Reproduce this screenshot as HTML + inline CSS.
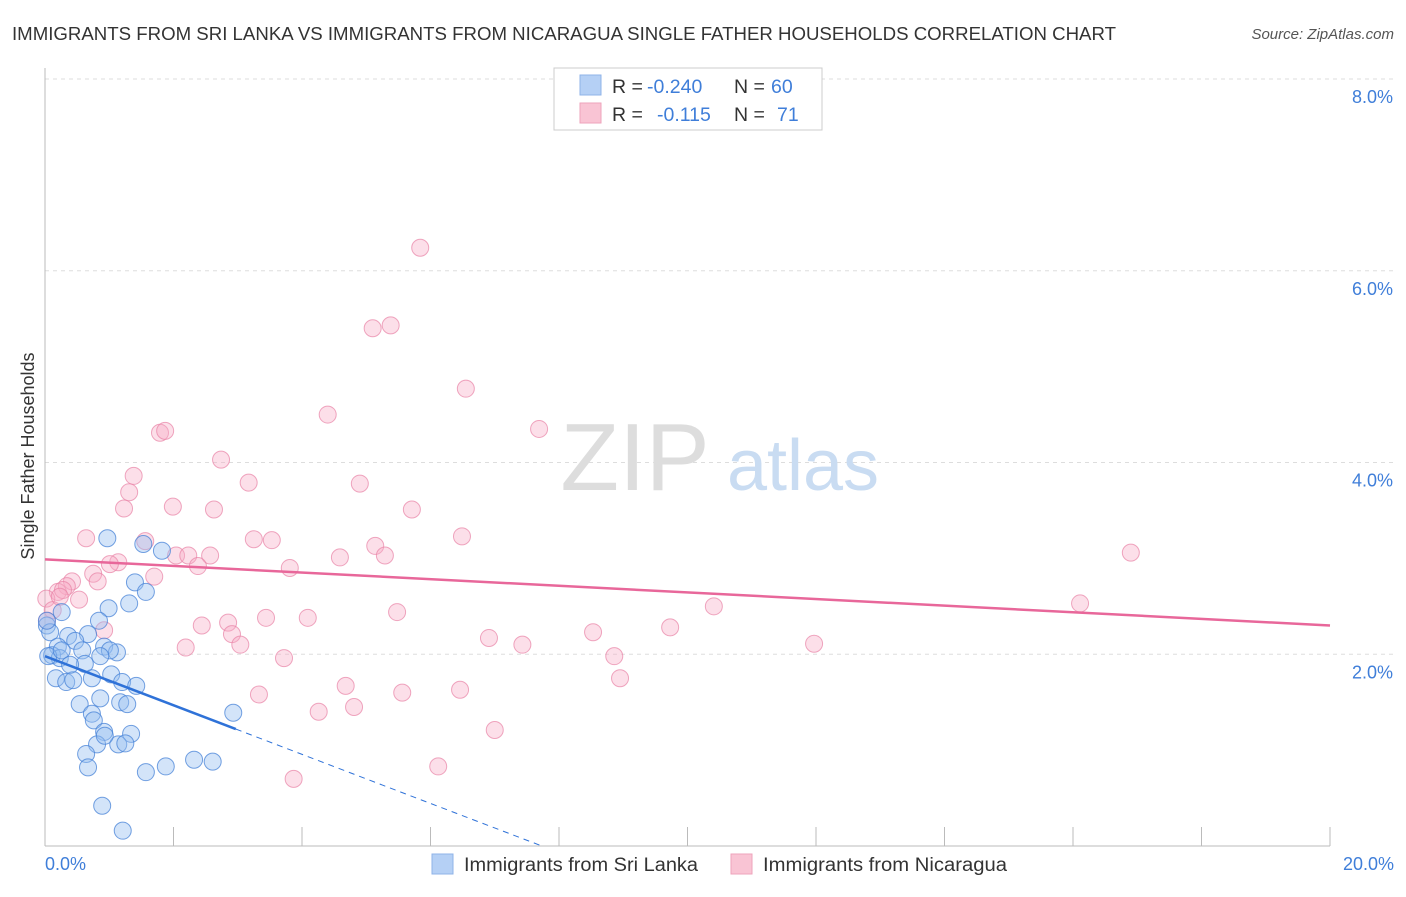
<!DOCTYPE html>
<html><head><meta charset="utf-8"><style>
body{margin:0;background:#fff;font-family:"Liberation Sans",sans-serif;}
svg text{font-family:"Liberation Sans",sans-serif;}
</style></head><body>
<svg id="chart" width="1406" height="892" xmlns="http://www.w3.org/2000/svg">
<text x="12" y="40" font-size="18" fill="#333" textLength="1104" lengthAdjust="spacingAndGlyphs">IMMIGRANTS FROM SRI LANKA VS IMMIGRANTS FROM NICARAGUA SINGLE FATHER HOUSEHOLDS CORRELATION CHART</text>
<text x="1394" y="39" font-size="15" fill="#555" font-style="italic" text-anchor="end">Source: ZipAtlas.com</text>
<g id="grid"></g>
<g><text x="635" y="490" font-size="96" font-family="Liberation Serif" fill="#ddd" text-anchor="middle">ZIP</text><text x="803" y="490" font-size="72" fill="#c9dcf2" text-anchor="middle">atlas</text></g>
<line x1="45" y1="68" x2="45" y2="846" stroke="#bbb"/>
<line x1="45" y1="846" x2="1330" y2="846" stroke="#bbb"/>
<g id="xticks"></g>
<text x="45" y="870" font-size="18" fill="#3f7ed9">0.0%</text>
<text x="1394" y="870" font-size="18" fill="#3f7ed9" text-anchor="end">20.0%</text>
<text transform="translate(34,456) rotate(-90)" font-size="18" fill="#333" text-anchor="middle">Single Father Households</text>
<g id="pink"></g>
<g id="blue"></g>
<g id="trends"></g>
<g>
<rect x="554" y="68" width="268" height="62" fill="#fff" stroke="#ccc"/>
<rect x="580" y="75" width="21" height="20" fill="#b5d0f5" stroke="#8fb3e8"/>
<rect x="580" y="103" width="21" height="20" fill="#f9c4d4" stroke="#eea3bb"/>
<text x="612" y="93" font-size="19.5" fill="#333">R = <tspan x="647" fill="#3f7ed9">-0.240</tspan><tspan x="734">N = </tspan><tspan x="771" fill="#3f7ed9">60</tspan></text>
<text x="612" y="121" font-size="19.5" fill="#333">R = <tspan x="657" fill="#3f7ed9">-0.115</tspan><tspan x="734">N = </tspan><tspan x="777" fill="#3f7ed9">71</tspan></text>
</g>
<g>
<rect x="432" y="854" width="21" height="20" fill="#b5d0f5" stroke="#8fb3e8"/>
<text x="464" y="871" font-size="19" fill="#333" textLength="234" lengthAdjust="spacingAndGlyphs">Immigrants from Sri Lanka</text>
<rect x="731" y="854" width="21" height="20" fill="#f9c4d4" stroke="#eea3bb"/>
<text x="763" y="871" font-size="19" fill="#333" textLength="244" lengthAdjust="spacingAndGlyphs">Immigrants from Nicaragua</text>
</g>
</svg>
<script>
const yTicks=[2,4,6,8];
const yTickLabels=["2.0%","4.0%","6.0%","8.0%"];
const xTicks=[0,2,4,6,8,10,12,14,16,18,20];
const blueX=[0.97,1.82,1.53,1.40,1.57,0.99,1.31,0.26,0.84,0.03,0.08,0.36,0.67,0.47,0.20,0.92,1.12,0.58,0.11,0.23,0.62,1.03,0.17,0.33,0.44,0.73,1.20,1.42,0.54,0.86,1.17,1.28,0.73,0.76,0.92,1.34,0.81,1.14,1.25,2.93,0.64,0.67,1.57,1.88,2.32,2.61,0.89,1.21,0.03,0.05,0.26,0.39,1.01,0.86,0.93];
const blueY=[3.21,3.08,3.15,2.75,2.65,2.48,2.53,2.44,2.35,2.30,2.23,2.19,2.21,2.14,2.08,2.08,2.02,2.04,1.99,1.96,1.90,1.79,1.75,1.71,1.73,1.75,1.71,1.67,1.48,1.54,1.50,1.48,1.38,1.31,1.19,1.17,1.06,1.06,1.07,1.39,0.96,0.82,0.77,0.83,0.90,0.88,0.42,0.16,2.35,1.98,2.04,1.89,2.04,1.98,1.15];
const pinkX=[5.84,5.10,5.38,6.55,4.40,1.79,1.87,7.69,2.74,1.38,3.17,4.90,1.31,1.99,2.63,1.23,5.71,6.49,0.64,1.56,3.25,3.53,5.14,2.04,2.23,2.57,4.59,5.29,1.14,1.01,2.38,3.81,0.75,1.70,0.42,0.82,0.34,0.20,0.28,0.53,0.02,0.12,16.90,16.11,10.41,5.48,3.44,4.09,2.85,2.44,0.92,9.73,8.53,6.91,2.91,3.04,2.19,7.43,11.97,8.86,3.72,8.95,4.68,6.46,5.56,3.33,4.81,4.26,7.00,6.12,3.87,0.03,0.23];
const pinkY=[6.24,5.40,5.43,4.77,4.50,4.31,4.33,4.35,4.03,3.86,3.79,3.78,3.69,3.54,3.51,3.52,3.51,3.23,3.21,3.18,3.20,3.19,3.13,3.03,3.03,3.03,3.01,3.03,2.96,2.94,2.92,2.90,2.84,2.81,2.76,2.76,2.71,2.65,2.67,2.57,2.58,2.46,3.06,2.53,2.50,2.44,2.38,2.38,2.33,2.30,2.25,2.28,2.23,2.17,2.21,2.10,2.07,2.10,2.11,1.98,1.96,1.75,1.67,1.63,1.60,1.58,1.45,1.40,1.21,0.83,0.70,2.35,2.60];
const blueTrend=[1.98,-0.256];
const pinkTrend=[2.99,-0.0345];
const NS="http://www.w3.org/2000/svg";
const X0=45,X1=1330,Y0=846,Y8=79;
function sx(v){return X0+(X1-X0)*v/20;}
function sy(v){return Y0-(Y0-Y8)*v/8;}
function mk(tag,attrs,parent){const e=document.createElementNS(NS,tag);for(const k in attrs)e.setAttribute(k,attrs[k]);parent.appendChild(e);return e;}
const grid=document.getElementById('grid');
yTicks.forEach((t,i)=>{
  const l=mk('line',{x1:45,x2:1394,y1:sy(t),y2:sy(t),stroke:'#ddd','stroke-dasharray':'4,4'},grid);
  
  
  const tx=mk('text',{x:1393,y:sy(t)+24,'font-size':18,fill:'#3f7ed9','text-anchor':'end'},grid);
  tx.textContent=yTickLabels[i];
  
  
});
const xt=document.getElementById('xticks');
xTicks.forEach(t=>{
  const l=mk('line',{x1:sx(t),x2:sx(t),y1:827,y2:846,stroke:'#bbb'},xt);
  
  
});
function dots(id,xs,ys,fill,stroke){
  const g=document.getElementById(id);
  xs.forEach((x,i)=>{
    const c=mk('circle',{cx:sx(x),cy:sy(ys[i]),r:8.5,fill:fill,stroke:stroke,'stroke-width':1},g);
    
    
  });
}
dots('pink',pinkX,pinkY,'rgba(246,172,197,0.38)','rgba(232,130,165,0.7)');
dots('blue',blueX,blueY,'rgba(150,190,240,0.42)','rgba(70,130,215,0.75)');
const tr=document.getElementById('trends');
const pl=mk('line',{x1:sx(0),y1:sy(pinkTrend[0]),x2:sx(20),y2:sy(pinkTrend[0]+pinkTrend[1]*20),stroke:'#e8679a','stroke-width':2.5},tr);


const bl=mk('line',{x1:sx(0),y1:sy(blueTrend[0]),x2:sx(2.97),y2:sy(blueTrend[0]+blueTrend[1]*2.97),stroke:'#2f72d8','stroke-width':2.5},tr);


const bd=mk('line',{x1:sx(2.97),y1:sy(blueTrend[0]+blueTrend[1]*2.97),x2:sx(7.73),y2:sy(blueTrend[0]+blueTrend[1]*7.73),stroke:'#2f72d8','stroke-width':1,'stroke-dasharray':'6,5'},tr);


</script>
</body></html>
